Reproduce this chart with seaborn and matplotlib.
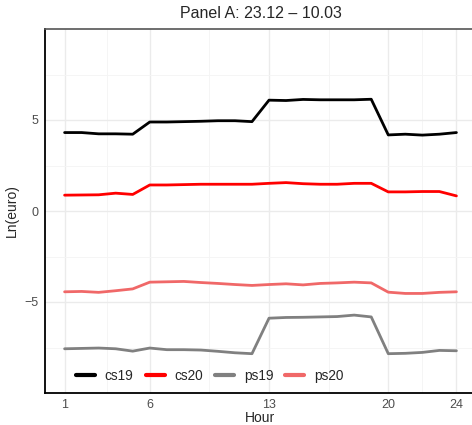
import numpy as np
import pandas as pd
import matplotlib
matplotlib.use("Agg")
import matplotlib.pyplot as plt
import seaborn as sns

hours = list(range(1, 25))
cs19 = [4.31, 4.31, 4.24, 4.24, 4.22, 4.89, 4.89, 4.91, 4.93, 4.96, 4.96, 4.91,
        6.09, 6.07, 6.13, 6.11, 6.11, 6.11, 6.14, 4.18, 4.22, 4.17, 4.22, 4.31]
cs20 = [0.87, 0.88, 0.89, 0.98, 0.91, 1.43, 1.43, 1.45, 1.47, 1.47, 1.47, 1.47,
        1.52, 1.56, 1.50, 1.47, 1.47, 1.52, 1.52, 1.05, 1.05, 1.07, 1.07, 0.83]
ps19 = [-7.57, -7.55, -7.53, -7.57, -7.70, -7.53, -7.62, -7.62, -7.64, -7.71, -7.79, -7.84,
        -5.89, -5.85, -5.84, -5.82, -5.80, -5.72, -5.82, -7.84, -7.82, -7.77, -7.66, -7.68]
ps20 = [-4.44, -4.42, -4.47, -4.38, -4.28, -3.91, -3.89, -3.87, -3.93, -3.98, -4.04, -4.09,
        -4.04, -4.00, -4.06, -3.98, -3.95, -3.91, -3.95, -4.46, -4.53, -4.53, -4.47, -4.44]
series_names = ["cs19", "cs20", "ps19", "ps20"]
x_ticks = [1, 6, 13, 20, 24]
y_ticks = [-5, 0, 5]
title = "Panel A: 23.12 \u2013 10.03"

df = pd.DataFrame({
    "Hour": hours * 4,
    "value": cs19 + cs20 + ps19 + ps20,
    "series": sum([[n] * 24 for n in series_names], []),
})

sns.set_style("white")
plt.rcParams["font.family"] = ["Liberation Sans", "DejaVu Sans"]

fig = plt.figure(figsize=(4.72, 4.25), dpi=100)
ax = fig.add_axes([45 / 472, 1 - 393 / 425, 431 / 472, (393 - 29) / 425])

palette = {"cs19": "#000000", "cs20": "#FF0000", "ps19": "#808080", "ps20": "#F06868"}
sns.lineplot(data=df, x="Hour", y="value", hue="series", palette=palette,
             linewidth=2.0, ax=ax, legend=True)

ax.set_xlim(-0.15, 25.15)
ax.set_ylim(-10, 10)
ax.set_xticks(x_ticks)
ax.set_yticks(y_ticks)
ax.set_xticks([3.5, 9.5, 16.5, 22], minor=True)
ax.set_yticks([-7.5, -2.5, 2.5, 7.5], minor=True)
ax.set_yticklabels(["\u22125", "0", "5"])
ax.grid(True, which="major", color="#EBEBEB", linewidth=1.0)
ax.grid(True, which="minor", color="#F4F4F4", linewidth=0.6)
ax.set_axisbelow(True)
ax.tick_params(axis="both", which="major", length=3, width=0.8, color="#333333",
               labelcolor="#4D4D4D", labelsize=9, pad=2)
ax.tick_params(axis="x", which="major", pad=1.5)
ax.tick_params(axis="both", which="minor", length=0)

for s in ["left", "bottom"]:
    ax.spines[s].set_color("black")
    ax.spines[s].set_linewidth(1.3)
ax.spines["top"].set_color("#555555")
ax.spines["top"].set_linewidth(1.2)
ax.spines["right"].set_color("#555555")

ax.set_xlabel("Hour", fontsize=10, labelpad=0)
ax.set_ylabel("Ln(euro)", fontsize=10, labelpad=4)
fig.text(261 / 472, 1 - 14 / 425, title, ha="center", va="center", fontsize=11.5)

leg = ax.legend(title=None, ncol=4, loc="center left", frameon=False,
                bbox_to_anchor=(0.072, 17 / 364), borderaxespad=0, borderpad=0,
                handlelength=1.4, columnspacing=0.9,
                handletextpad=0.7, fontsize=9.8)
for line in leg.get_lines():
    line.set_linewidth(3)

fig.savefig("out.png", dpi=100)
